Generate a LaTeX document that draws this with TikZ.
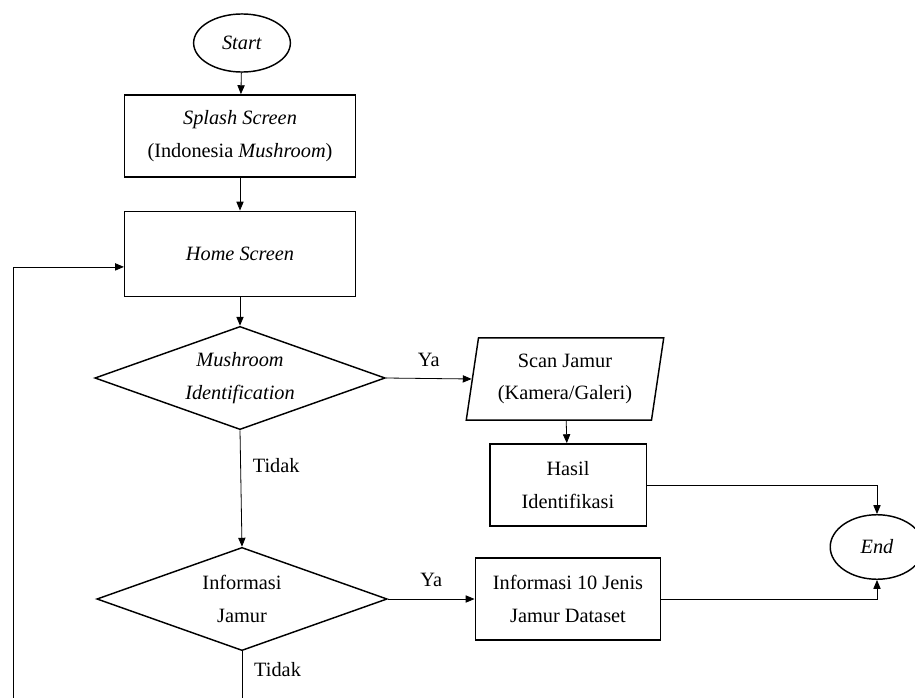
\documentclass[tikz,border=0pt]{standalone}
\usepackage{fontspec}
\setmainfont{Liberation Serif}
\usetikzlibrary{shapes.geometric,arrows.meta}

\begin{document}
\begin{tikzpicture}[x=.62pt, y=-.62pt,
        font=\fontsize{12.6}{20}\selectfont,
        box/.style={draw, line width=.9pt, align=center, inner sep=2pt},
        proc/.style={box, rectangle},
        term/.style={box, ellipse, minimum width=60pt, minimum height=36pt},
        decision/.style={box, diamond, aspect=2.8, inner sep=0pt,
            minimum width=180pt, minimum height=64pt},
        io/.style={box, trapezium, trapezium left angle=80, trapezium right angle=100,
            trapezium stretches=true, minimum width=123pt, minimum height=51pt},
        arr/.style={draw, line width=.5pt, -{Triangle[width=4.5pt, length=5.5pt]}},
        lbl/.style={font=\fontsize{12.6}{15}\selectfont}
    ]
    \useasboundingbox (0,0) rectangle (915,698);

    \node[term] (start) at (242,43) {\textit{Start}};
    \node[proc, minimum width=143pt, minimum height=51pt] (splash) at (240,136)
        {\textit{Splash Screen}\\(Indonesia \textit{Mushroom})};
    \node[proc, minimum width=143pt, minimum height=53pt] (home) at (240,254)
        {\textit{Home Screen}};
    \node[decision] (identify) at (240,378) {\textit{Mushroom}\\\textit{Identification}};
    \node[io] (scan) at (565,379) {Scan Jamur\\(Kamera/Galeri)};
    \node[proc, minimum width=97pt, minimum height=51pt] (hasil) at (568,485)
        {Hasil\\Identifikasi};
    \node[decision] (info) at (242,599) {Informasi\\Jamur};
    \node[proc, minimum width=115pt, minimum height=51pt] (jenis) at (568,599)
        {Informasi 10 Jenis\\Jamur Dataset};
    \node[term, minimum width=58pt, minimum height=40pt] (end) at (877,547) {\textit{End}};

    % free ends (the chart goes on below)
    \coordinate (down) at (242,698);
    \coordinate (back) at (13,698);

    \draw[arr] (start) -- (splash);
    \draw[arr] (splash) -- (home);
    \draw[arr] (home) -- (identify);
    \draw[arr] (identify.east) -- node[lbl, above=4pt] {Ya} (scan.west);
    \draw[arr] (scan) -- (hasil);
    \draw[arr] (identify.south) -- node[lbl, right, pos=.3, xshift=4pt] {Tidak} (info.north);
    \draw[arr] (info.east) -- node[lbl, above=4pt] {Ya} (jenis.west);
    \draw[arr] (hasil.east) -| (end.north);
    \draw[arr] (jenis.east) -| (end.south);
    \draw[line width=.5pt] (info.south) -- node[lbl, right, pos=.4, xshift=4pt] {Tidak} (down);
    \draw[arr] (back) |- ([yshift=-8pt]home.west);
\end{tikzpicture}
\end{document}
